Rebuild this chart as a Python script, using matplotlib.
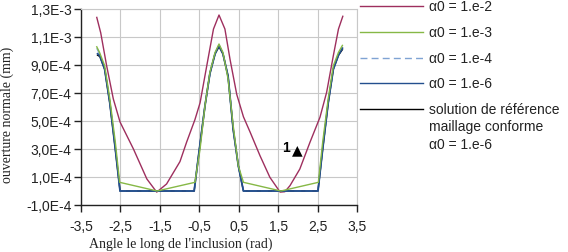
import matplotlib
matplotlib.use("Agg")
import matplotlib.pyplot as plt
from matplotlib.lines import Line2D

# --- data ---
x_a2 = [-3.10, -3.00, -2.85, -2.68, -2.51, -2.17, -1.83, -1.58, -1.33, -0.99,
        -0.82, -0.61, -0.48, -0.31, -0.14, 0.00, 0.15, 0.28, 0.45, 0.62,
        0.79, 1.04, 1.29, 1.55, 1.67, 1.80, 2.05, 2.31, 2.56, 2.73,
        2.90, 3.03, 3.14]
y_a2 = [1.24e-3, 1.13e-3, 8.95e-4, 6.57e-4, 4.93e-4, 3.00e-4, 8.6e-5, -8e-6, 5.0e-5, 2.1e-4,
        3.5e-4, 5.1e-4, 6.3e-4, 8.95e-4, 1.157e-3, 1.257e-3, 1.157e-3, 9.4e-4, 6.9e-4, 5.3e-4,
        4.2e-4, 2.52e-4, 9.8e-5, -8e-6, -5e-6, 3.8e-5, 1.57e-4, 3.5e-4, 5.26e-4, 7.05e-4,
        9.67e-4, 1.157e-3, 1.248e-3]

x_a3 = [-3.10, -3.03, -2.90, -2.77, -2.63, -2.52, -1.57, -0.61, -0.48, -0.355,
        -0.23, -0.10, 0.00, 0.10, 0.23, 0.36, 0.49, 0.62, 1.57, 2.52,
        2.63, 2.77, 2.90, 3.03, 3.13]
y_a3 = [1.03e-3, 9.9e-4, 8.95e-4, 6.6e-4, 3.5e-4, 6.2e-5, 0.0, 6.2e-5, 3.0e-4, 6.1e-4,
        8.5e-4, 9.9e-4, 1.05e-3, 9.9e-4, 8.0e-4, 4.67e-4, 1.8e-4, 6.2e-5, 0.0, 6.2e-5,
        3.5e-4, 6.6e-4, 8.95e-4, 9.9e-4, 1.04e-3]

x_a4 = [-3.10, -3.03, -2.90, -2.77, -2.63, -2.51, -0.63, -0.52, -0.355, -0.23,
        -0.10, 0.00, 0.10, 0.23, 0.36, 0.49, 0.62, 2.51, 2.63, 2.77,
        2.90, 3.03, 3.13]
y_a4 = [1.02e-3, 9.8e-4, 8.8e-4, 6.4e-4, 3.1e-4, 0.0, 0.0, 2.5e-4, 6.1e-4, 8.4e-4,
        9.8e-4, 1.04e-3, 9.8e-4, 8.2e-4, 4.4e-4, 1.8e-4, 0.0, 0.0, 3.0e-4, 6.3e-4,
        8.7e-4, 9.7e-4, 1.02e-3]

x_a6 = [-3.08, -3.03, -2.90, -2.77, -2.63, -2.51, -0.63, -0.52, -0.355, -0.23,
        -0.10, 0.00, 0.10, 0.23, 0.36, 0.49, 0.62, 2.51, 2.63, 2.77,
        2.90, 3.03, 3.13]
y_a6 = [9.8e-4, 9.7e-4, 8.7e-4, 6.3e-4, 3.0e-4, 0.0, 0.0, 2.5e-4, 6.1e-4, 8.4e-4,
        9.8e-4, 1.04e-3, 9.8e-4, 8.2e-4, 4.4e-4, 1.8e-4, 0.0, 0.0, 3.0e-4, 6.3e-4,
        8.7e-4, 9.7e-4, 1.02e-3]

x_ref = [-3.08, -3.02, -2.90, -2.77, -2.63, -2.51, -0.63, -0.52, -0.355, -0.23,
         -0.10, 0.00, 0.10, 0.23, 0.36, 0.49, 0.62, 2.51, 2.63, 2.77,
         2.90, 3.03, 3.13]
y_ref = [9.7e-4, 9.6e-4, 8.7e-4, 6.3e-4, 3.0e-4, 0.0, 0.0, 2.5e-4, 6.1e-4, 8.4e-4,
         9.8e-4, 1.03e-3, 9.8e-4, 8.2e-4, 4.4e-4, 1.8e-4, 0.0, 0.0, 3.0e-4, 6.3e-4,
         8.7e-4, 9.7e-4, 1.01e-3]

labels = ["α0 = 1.e-2", "α0 = 1.e-3", "α0 = 1.e-4", "α0 = 1.e-6",
          "solution de référence\nmaillage conforme\nα0 = 1.e-6"]

x_ticks = [-3.5, -2.5, -1.5, -0.5, 0.5, 1.5, 2.5, 3.5]
x_ticklabels = ["-3,5", "-2,5", "-1,5", "-0,5", "0,5", "1,5", "2,5", "3,5"]
y_ticks = [-1e-4, 1e-4, 3e-4, 5e-4, 7e-4, 9e-4, 1.1e-3, 1.3e-3]
y_ticklabels = ["-1,0E-4", "1,0E-4", "3,0E-4", "5,0E-4", "7,0E-4", "9,0E-4", "1,1E-3", "1,3E-3"]

plt.rcParams['font.family'] = ['Liberation Sans', 'DejaVu Sans']

fig = plt.figure(figsize=(5.68, 2.53), dpi=100)
ax = fig.add_axes([81/568, 1 - 206/253, (357 - 81)/568, (206 - 10)/253])

c_red = "#9e2f5e"
c_green = "#86b846"
c_dash = "#7fa3d3"
c_blue = "#234f8e"
c_black = "#000000"

ax.plot(x_ref, y_ref, color=c_black, lw=1.0, zorder=3)
ax.plot(x_a2, y_a2, color=c_red, lw=1.0, zorder=4)
ax.plot(x_a4, y_a4, color=c_dash, lw=1.0, ls=(0, (5, 3)), zorder=4)
ax.plot(x_a6, y_a6, color=c_blue, lw=1.3, zorder=5)
ax.plot(x_a3, y_a3, color=c_green, lw=1.0, zorder=6)

ax.set_xlim(-3.5, 3.5)
ax.set_ylim(-1e-4, 1.3e-3)
ax.set_xticks(x_ticks)
ax.set_xticklabels(x_ticklabels)
ax.set_yticks(y_ticks)
ax.set_yticklabels(y_ticklabels)
ax.tick_params(axis='both', labelsize=10, length=5, width=1, color='#222222',
               direction='out', labelcolor='#222222')
ax.tick_params(axis='y', pad=2)
ax.tick_params(axis='x', pad=5)
ax.grid(True, color='#c8c8c8', lw=0.8)
ax.set_axisbelow(True)
for s in ['top', 'right']:
    ax.spines[s].set_color('#c8c8c8')
    ax.spines[s].set_linewidth(0.8)
for s in ['left', 'bottom']:
    ax.spines[s].set_color('#222222')
    ax.spines[s].set_linewidth(1.0)

# annotation "1 ▲"
ax.text(1.70, 3.15e-4, "1", fontsize=10, fontweight='bold', ha='center', va='center', zorder=7)
ax.text(1.98, 2.95e-4, "▲", fontsize=10, family='DejaVu Sans', ha='center', va='center', zorder=7)

# legend drawn beside the axes
leg_colors = [c_red, c_green, c_dash, c_blue, c_black]
leg_styles = ['-', '-', (0, (5, 3)), '-', '-']
leg_y = [7, 33, 59, 84, 110]
for lab, col, st, yy in zip(labels, leg_colors, leg_styles, leg_y):
    yf = 1 - yy / 253
    fig.add_artist(Line2D([360/568, 423/568], [yf, yf], color=col, lw=1.0, ls=st,
                          transform=fig.transFigure))
    for i, line in enumerate(lab.split("\n")):
        fig.text(429/568, 1 - (yy + i * 17.5) / 253, line, fontsize=10, color='#222222',
                 ha='left', va='center')

fig.text(181/568, 1 - 238/253, "Angle le long de l'inclusion (rad)", fontsize=10,
         family='Liberation Serif', ha='center', va='top', color='#222222')
fig.text(7/568, 1 - 115/253, "ouverture normale (mm)", fontsize=10, family='Liberation Serif',
         rotation=90, ha='center', va='center', color='#222222')

fig.savefig("out.png", dpi=100)
